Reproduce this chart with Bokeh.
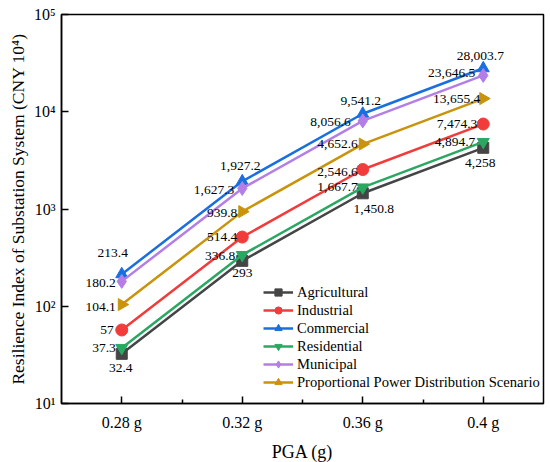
import numpy as np
from bokeh.plotting import figure
from bokeh.models import Range1d, FixedTicker, Legend, LegendItem, ColumnDataSource
from bokeh.core.properties import value
from bokeh.embed import file_html
from bokeh.resources import INLINE

pga = [0.28, 0.32, 0.36, 0.40]
pga_labels = ["0.28 g", "0.32 g", "0.36 g", "0.4 g"]

agricultural = [32.4, 293, 1450.8, 4258]
industrial = [57, 514.4, 2546.6, 7474.3]
commercial = [213.4, 1927.2, 9541.2, 28003.7]
residential = [37.3, 336.8, 1667.7, 4894.7]
municipal = [180.2, 1627.3, 8056.6, 23646.5]
proportional = [104.1, 939.8, 4652.6, 13655.4]

series_names = ["Agricultural", "Industrial", "Commercial", "Residential",
                "Municipal", "Proportional Power Distribution Scenario"]

FONT = "Liberation Serif"

p = figure(width=548, height=454, output_backend="svg", toolbar_location=None,
           y_axis_type="log", x_range=Range1d(0.26, 0.42), y_range=Range1d(10, 1e5),
           frame_width=482, frame_height=389,
           min_border_left=61, min_border_right=5, min_border_top=14, min_border_bottom=51)
p.background_fill_color = "white"
p.border_fill_color = "white"
p.grid.visible = False
p.outline_line_color = "black"
p.outline_line_width = 1.5

p.xaxis.ticker = FixedTicker(ticks=pga, minor_ticks=[0.30, 0.34, 0.38])
p.xaxis.major_label_overrides = {v: l for v, l in zip(pga, pga_labels)}
p.yaxis.ticker = FixedTicker(ticks=[10, 100, 1000, 10000, 100000], minor_ticks=[])
p.yaxis.major_label_overrides = {10: "10¹", 100: "10²", 1000: "10³", 10000: "10⁴", 100000: "10⁵"}

for ax in (p.xaxis[0], p.yaxis[0]):
    ax.axis_line_width = 1.5
    ax.axis_line_color = "black"
    ax.major_tick_in = 7
    ax.major_tick_out = 0
    ax.minor_tick_in = 4
    ax.minor_tick_out = 0
    ax.major_tick_line_width = 1.5
    ax.minor_tick_line_width = 1.5
    ax.major_label_text_font = FONT
    ax.major_label_text_font_size = "16px"
    ax.major_label_text_color = "black"
    ax.axis_label_text_font = FONT
    ax.axis_label_text_font_style = "normal"
    ax.axis_label_text_color = "black"

p.xaxis.axis_label = "PGA (g)"
p.xaxis.axis_label_text_font_size = "18px"
p.xaxis.major_label_standoff = 10
p.xaxis.axis_label_standoff = 8
p.yaxis.axis_label = "Resilience Index of Substation System (CNY 10⁴)"
p.yaxis.axis_label_text_font_size = "17.5px"
p.yaxis.major_label_standoff = 6
p.yaxis.axis_label_standoff = 3

colors = ["#454545", "#f23b3b", "#1a6fe0", "#2aa862", "#b37fe6", "#c9930b"]
markers = ["square", "circle", "triangle", "inverted_triangle", "diamond", "triangle"]
angles = [0, 0, 0, 0, 0, -np.pi / 2]
sizes = [11, 12, 12, 12, 14, 12]
data = [agricultural, industrial, commercial, residential, municipal, proportional]

# label offsets (pixels) and alignment per series
label_style = {
    "Agricultural": dict(align="center", dx=[-1, 0, 11, -3], dy=[14, 12, 16, 15]),
    "Industrial": dict(align="right", dx=[-8, -5, -5, -6], dy=[0, 0, 2, 0]),
    "Commercial": dict(align="center", dx=[-9, -2, -2, -3], dy=[-21, -15, -13, -12]),
    "Residential": dict(align="right", dx=[-6, -7, -5, -8], dy=[0, 1, 0, 0]),
    "Municipal": dict(align="right", dx=[-6, -8, -12, -8], dy=[2, 2, 1, -2]),
    "Proportional Power Distribution Scenario": dict(align="right", dx=[-6, -5, -5, -3], dy=[2, 1, 0, 0]),
}

items = []
for name, vals, c, m, a, s in zip(series_names, data, colors, markers, angles, sizes):
    src = ColumnDataSource(dict(x=pga, y=vals))
    r1 = p.line("x", "y", source=src, line_color=c, line_width=2.5)
    r2 = p.scatter("x", "y", source=src, marker=m, size=s, angle=a, fill_color=c,
                   line_color=c)
    items.append(LegendItem(label=name, renderers=[r1, r2]))

for name, vals in zip(series_names, data):
    st = label_style[name]
    txt = [f"{v:,}" if v != int(v) else f"{int(v):,}" for v in vals]
    tsrc = ColumnDataSource(dict(x=pga, y=vals, t=txt, dx=st["dx"], dy=st["dy"]))
    p.text("x", "y", text="t", source=tsrc, x_offset="dx", y_offset="dy",
           text_align=st["align"], text_baseline="middle",
           text_font=value(FONT), text_font_size="13.5px", text_color="black")

legend = Legend(items=items, location=(202, 12))
legend.background_fill_alpha = 0
legend.border_line_color = None
legend.padding = 0
legend.margin = 0
legend.spacing = 0
legend.glyph_width = 30
legend.glyph_height = 18
legend.label_height = 18
legend.label_standoff = 4
legend.label_text_font = FONT
legend.label_text_font_size = "14.6px"
legend.label_text_color = "black"
p.add_layout(legend, "center")

open("out.html", "w").write(file_html(p, INLINE))
